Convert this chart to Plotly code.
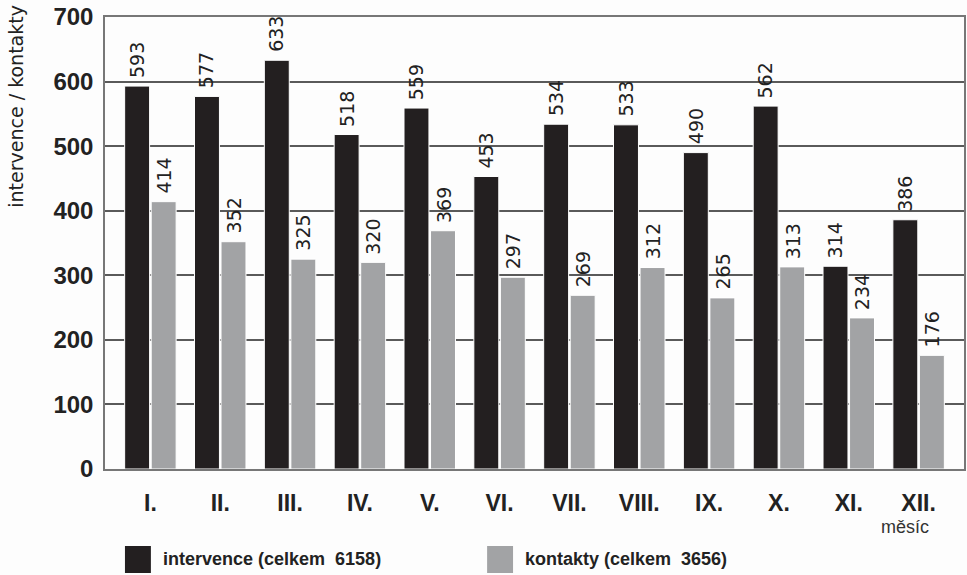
import plotly.graph_objects as go

months = ["I.", "II.", "III.", "IV.", "V.", "VI.", "VII.", "VIII.", "IX.", "X.", "XI.", "XII."]
intervence = [593, 577, 633, 518, 559, 453, 534, 533, 490, 562, 314, 386]
kontakty = [414, 352, 325, 320, 369, 297, 269, 312, 265, 313, 234, 176]
legend_labels = ["intervence (celkem  6158)", "kontakty (celkem  3656)"]
y_ticks = [0, 100, 200, 300, 400, 500, 600, 700]

BLACK = "#231f20"
GRAY = "#a2a3a5"
FONT = "Liberation Sans"
LFONT = "DejaVu Sans"

fig = go.Figure()
for vals, col in [(intervence, BLACK), (kontakty, GRAY)]:
    fig.add_trace(go.Bar(
        x=months, y=vals, marker=dict(color=col, line=dict(color="white", width=1)),
        showlegend=False, hoverinfo="x+y",
    ))

# value labels above bars (rotated)
for vals, xs in [(intervence, -13.5), (kontakty, 13.5)]:
    for m, v in zip(months, vals):
        fig.add_annotation(x=m, y=v, xshift=xs, yshift=6, text=str(v), textangle=-90,
                           showarrow=False, xanchor="center", yanchor="bottom",
                           font=dict(family=LFONT, size=19, color="#222"))

fig.update_layout(
    width=967, height=575,
    margin=dict(l=105, r=1, t=17, b=106),
    paper_bgcolor="#fdfdfd", plot_bgcolor="#fdfdfd",
    barmode="group", bargap=0.24, bargroupgap=0.06,
)
fig.update_xaxes(
    range=[-0.65, 11.65], showgrid=False, showline=True, mirror=True,
    linecolor="#777", linewidth=1.5,
    tickfont=dict(family=FONT, size=23, color="#222", weight="bold"),
    ticklabelstandoff=13,
)
fig.update_yaxes(
    range=[0, 700], tickvals=y_ticks, showgrid=True, gridcolor="#5a5a5a", gridwidth=1.5,
    showline=True, mirror=True, linecolor="#777", linewidth=1.5, zeroline=False,
    tickfont=dict(family=FONT, size=24, color="#222", weight="bold"),
    ticklabelstandoff=5,
)

# y-axis title
fig.add_annotation(xref="paper", yref="paper", x=-0.104, y=1.032, xanchor="center", yanchor="top",
                   text="intervence / kontakty", textangle=-90, showarrow=False,
                   font=dict(family=LFONT, size=19, color="#222"))
# x-axis title
fig.add_annotation(xref="paper", yref="paper", x=(907 - 105) / 861, y=(469 - 527) / 452,
                   xanchor="center", yanchor="middle",
                   text="měsíc", showarrow=False, font=dict(family=FONT, size=18, color="#333"))

# custom legend
leg = [(125, legend_labels[0], BLACK), (488, legend_labels[1], GRAY)]
for x0, lab, col in leg:
    fig.add_shape(type="rect", xref="paper", yref="paper",
                  x0=(x0 - 105) / 861, x1=(x0 + 26 - 105) / 861,
                  y0=(469 - 573) / 452, y1=(469 - 546) / 452,
                  fillcolor=col, line=dict(width=0))
    fig.add_annotation(xref="paper", yref="paper", x=(x0 + 36 - 105) / 861, y=(469 - 559) / 452,
                       xanchor="left", yanchor="middle", text=lab, showarrow=False,
                       font=dict(family=FONT, size=18, color="#222", weight="bold"))

fig.write_html("out.html", config={"displayModeBar": False},
               post_script="document.body.style.margin='0';document.body.style.overflow='hidden';")
